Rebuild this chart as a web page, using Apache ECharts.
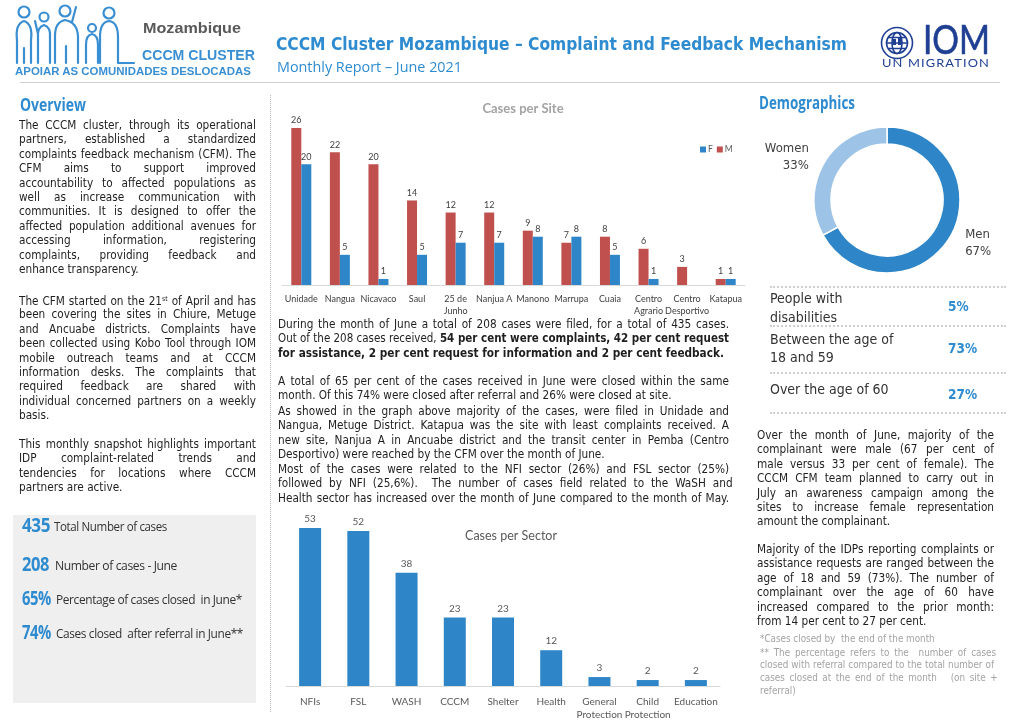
<!DOCTYPE html>
<html><head><meta charset="utf-8">
<script src="https://cdn.jsdelivr.net/npm/echarts@6/dist/echarts.min.js"></script>
<style>
html,body{margin:0;padding:0;background:#fff;}
#page{position:relative;width:1020px;height:721px;overflow:hidden;background:#fff;}
#chart{position:absolute;left:0;top:0;width:1020px;height:721px;}
#ov{position:absolute;left:0;top:0;width:1020px;height:721px;pointer-events:none;}
.t{position:absolute;white-space:nowrap;display:inline-block;transform-origin:0 50%;}
.body{font-family:"DejaVu Sans Condensed","DejaVu Sans";font-stretch:condensed;color:#1e1e1e;}
</style></head>
<body>
<div id="page">
  <div id="chart"></div>
  <div id="ov"></div>
</div>
<script>
// ---------------- DATA ----------------
const siteCategories = ['Unidade','Nangua','Nicavaco','Saul','25 de\nJunho','Nanjua A','Manono','Marrupa','Cuaia','Centro\nAgrario','Centro\nDesportivo','Katapua'];
const siteM = [26,22,20,14,12,12,9,7,8,6,3,1];
const siteF = [20,5,1,5,7,7,8,8,5,1,null,1];
const sectorCategories = ['NFIs','FSL','WASH','CCCM','Shelter','Health','General\nProtection','Child\nProtection','Education'];
const sectorValues = [53,52,38,23,23,12,3,2,2];
const genderNames = ['Men','Women'];
const genderValues = [67,33];
const demoLabels = [['People with','disabilities'],['Between the age of','18 and 59'],['Over the age of 60']];
const demoValues = ['5%','73%','27%'];
const statValues = ['435','208','65%','74%'];
const statLabels = ['Total Number of cases','Number of cases - June','Percentage of cases closed\u00a0 in June*','Cases closed\u00a0 after referral in June**'];

const overviewParas = [
 ['The CCCM cluster, through its operational','partners, established a standardized','complaints feedback mechanism (CFM). The','CFM aims to support improved','accountability to affected populations as','well as increase communication with','communities. It is designed to offer the','affected population additional avenues for','accessing information, registering','complaints, providing feedback and','enhance transparency.'],
 ['The CFM started on the 21<sup style="font-size:7px;vertical-align:4px">st</sup> of April and has','been covering the sites in Chiure, Metuge','and Ancuabe districts. Complaints have','been collected using Kobo Tool through IOM','mobile outreach teams and at CCCM','information desks. The complaints that','required feedback are shared with','individual concerned partners on a weekly','basis.'],
 ['This monthly snapshot highlights important','IDP complaint-related trends and','tendencies for locations where CCCM','partners are active.']
];
const middleParas = [
 ['During the month of June a total of 208 cases were filed, for a total of 435 cases.','Out of the 208 cases received, <b>54 per cent were complaints, 42 per cent request</b>','<b>for assistance, 2 per cent request for information and 2 per cent feedback.</b>'],
 ['A total of 65 per cent of the cases received in June were closed within the same','month. Of this 74% were closed after referral and 26% were closed at site.'],
 ['As showed in the graph above majority of the cases, were filed in Unidade and','Nangua, Metuge District. Katapua was the site with least complaints received. A','new site, Nanjua A in Ancuabe district and the transit center in Pemba (Centro','Desportivo) were reached by the CFM over the month of June.'],
 ['Most of the cases were related to the NFI sector (26%) and FSL sector (25%)','followed by NFI (25,6%).&nbsp; The number of cases field related to the WaSH and','Health sector has increased over the month of June compared to the month of May.']
];
const rightParas = [
 ['Over the month of June, majority of the','complainant were male (67 per cent of','male versus 33 per cent of female). The','CCCM CFM team planned to carry out in','July an awareness campaign among the','sites to increase female representation','amount the complainant.'],
 ['Majority of the IDPs reporting complaints or','assistance requests are ranged between the','age of 18 and 59 (73%). The number of','complainant over the age of 60 have','increased compared to the prior month:','from 14 per cent to 27 per cent.']
];
const footnotes = [
 ['*Cases closed by&nbsp; the end of the month'],
 ['** The percentage refers to the&nbsp; number of cases','closed with referral compared to the total number of','cases closed at the end of the month &nbsp; (on site +','referral)']
];

// ---------------- CHART ----------------
const BLUE = '#2e86c8', RED = '#c0504d';
const chart = echarts.init(document.getElementById('chart'), null, {renderer:'canvas'});
chart.setOption({
  animation:false,
  textStyle:{fontFamily:'Lato'},
  title:[
    {text:'Cases per Site', left:523, top:102, padding:0, textAlign:'center',
     textStyle:{fontSize:13, fontWeight:'bold', color:'#a3a3a3', fontFamily:'Lato'}},
    {text:'Cases per Sector', left:511, top:529, padding:0, textAlign:'center',
     textStyle:{fontSize:12.5, fontWeight:'normal', color:'#595959', fontFamily:'Lato'}}
  ],
  legend:{data:['F','M'], left:700, top:145, padding:0, icon:'rect', itemWidth:6, itemHeight:6, itemGap:4,
    textStyle:{fontSize:8.5, color:'#595959', padding:[0,0,0,-3]}},
  grid:[
    {left:282, width:463, top:128, height:157},
    {left:286, width:434, top:528, height:162}
  ],
  xAxis:[
    {gridIndex:0, type:'category', data:siteCategories,
     axisLine:{lineStyle:{color:'#d9d9d9'}}, axisTick:{show:false},
     axisLabel:{interval:0, fontSize:9, color:'#404040', margin:8, lineHeight:12}},
    {gridIndex:1, type:'category', data:sectorCategories,
     axisLine:{lineStyle:{color:'#d9d9d9'}}, axisTick:{show:false},
     axisLabel:{interval:0, fontSize:10, color:'#595959', margin:9, lineHeight:13}}
  ],
  yAxis:[
    {gridIndex:0, type:'value', min:0, max:26, show:false},
    {gridIndex:1, type:'value', min:0, max:53, show:false}
  ],
  series:[
    {name:'M', type:'bar', xAxisIndex:0, yAxisIndex:0, data:siteM, barWidth:10, barGap:'0%',
     itemStyle:{color:RED}, label:{show:true, position:'top', distance:3, fontSize:9, color:'#404040'}},
    {name:'F', type:'bar', xAxisIndex:0, yAxisIndex:0, data:siteF, barWidth:10, barGap:'0%',
     itemStyle:{color:BLUE}, label:{show:true, position:'top', distance:3, fontSize:9, color:'#404040'}},
    {name:'Sectors', type:'bar', xAxisIndex:1, yAxisIndex:1, data:sectorValues, barWidth:22,
     itemStyle:{color:BLUE}, label:{show:true, position:'top', distance:4, fontSize:10, color:'#595959'}},
    {name:'Gender', type:'pie', center:[887,200], radius:[56,73], startAngle:90, clockwise:true, silent:true,
     itemStyle:{borderColor:'#fff', borderWidth:1.5},
     label:{show:true, position:'outside', fontSize:13, lineHeight:17, color:'#404040',
            fontFamily:'DejaVu Sans Condensed', align:'center',
            formatter:p=>p.name+'\n'+p.value+'%'},
     labelLine:{show:false, length:12, length2:0},
     data:genderNames.map((n,i)=>({name:n, value:genderValues[i], itemStyle:{color:i===0?BLUE:'#9dc3e6'}}))}
  ]
});

// ---------------- TEXT LAYOUT ----------------
const ov = document.getElementById('ov');
function put(x, yc, html, css, opt){
  opt = opt || {};
  const d = document.createElement('div');
  d.className = 't ' + (opt.cls||'');
  d.style.cssText += css;
  d.innerHTML = html;
  ov.appendChild(d);
  const r = d.getBoundingClientRect();
  d.style.left = x + 'px';
  d.style.top = (yc - r.height/2) + 'px';
  if (opt.w){
    const nat = r.width;
    if (opt.fit || nat > opt.w){
      d.style.transform = 'scaleX(' + (opt.w/nat) + ')';
    } else if (opt.justify){
      const n = (d.textContent.replace(/\s+/g,' ').trim().match(/ /g)||[]).length;
      if (n) d.style.wordSpacing = ((opt.w - nat)/n) + 'px';
    }
  }
  return d;
}
function block(x, w, paras, starts, lh, css, justifyLast){
  paras.forEach((lines, pi)=>{
    lines.forEach((ln, li)=>{
      const last = li === lines.length-1;
      put(x, starts[pi] + li*lh, ln, css, {cls:'body', w:w, justify: !last || (justifyLast && justifyLast[pi])});
    });
  });
}
function line(x1,y1,x2,y2,css){
  const d = document.createElement('div');
  d.style.cssText = 'position:absolute;left:'+x1+'px;top:'+y1+'px;width:'+(x2-x1)+'px;height:'+(y2-y1)+'px;'+css;
  ov.appendChild(d);
}

// header rule & separators
line(20,82,1000,83,'background:#d0d0d0;');
line(270,95,271,712,'border-left:1px dotted #b8b8b8;');
[286,325,372,412].forEach(y=>line(770,y,1006,y+2,'border-top:2px dotted #cfcfcf;'));

// stats box
line(13,515,256,703,'background:#efefef;');

// logo (people outlines)
ov.insertAdjacentHTML('beforeend',
 '<svg style="position:absolute;left:0;top:0" width="140" height="70"><g fill="none" stroke="#3a8fd3" stroke-width="2.2" stroke-linejoin="round" stroke-linecap="round">'+
 '<circle cx="24" cy="12" r="5.5"/><path d="M17,63 L17,40 Q15,24 24,21 Q33,24 31,40 L31,63 M24,63 L24,48"/>'+
 '<circle cx="44" cy="17" r="4.5"/><path d="M38,63 L38,38 Q37,27 44,25 Q51,27 50,38 L50,63 M38,34 L35,21"/>'+
 '<circle cx="65" cy="11" r="5.5"/><path d="M55,63 L55,36 Q55,22 65,20 Q77,22 78,36 L78,63 M66,63 L66,46 M72,22 L76,7"/>'+
 '<circle cx="92" cy="28" r="4"/><path d="M86,63 L86,45 Q86,35 92,34 Q98,35 98,45 L98,63"/>'+
 '<circle cx="109" cy="13" r="5.5"/><path d="M100,63 L100,37 Q100,22 109,21 Q118,22 118,37 L118,63 L134,63"/>'+
 '</g></svg>');
// IOM emblem
ov.insertAdjacentHTML('beforeend',
 '<svg style="position:absolute;top:24px;left:878px" width="38" height="38"><g fill="none" stroke="#1f3f93" stroke-width="1.6">'+
 '<circle cx="19" cy="19" r="15.5"/><circle cx="19" cy="19" r="10.5"/><ellipse cx="19" cy="19" rx="5" ry="10.5"/>'+
 '<path d="M8.5,19 L29.5,19 M10,13.5 L28,13.5 M10,24.5 L28,24.5"/></g>'+
 '<g fill="#1f3f93"><rect x="15" y="15" width="3" height="6"/><rect x="20" y="14" width="3" height="7"/></g></svg>');

// header texts
put(143,27,'Mozambique','font-family:"Liberation Sans";font-weight:bold;font-size:15px;color:#595959;',{w:98,fit:true});
put(142,55,'CCCM CLUSTER','font-family:"Liberation Sans";font-weight:bold;font-size:14px;color:#3a8fd3;',{w:113,fit:true});
put(15,71,'APOIAR AS COMUNIDADES DESLOCADAS','font-family:"Liberation Sans";font-weight:bold;font-size:10.5px;color:#3a8fd3;',{w:236,fit:true});
put(276,43,'CCCM Cluster Mozambique \u2013 Complaint and Feedback Mechanism','font-family:"DejaVu Sans Condensed","DejaVu Sans";font-stretch:condensed;font-weight:bold;font-size:18px;color:#2e8bd0;',{w:571,fit:true});
put(277,66,'Monthly Report \u2013 June 2021','font-family:"Open Sans";font-size:15px;color:#2e8bd0;',{w:185,fit:true});
put(923,39,'IOM','font-family:"Lato";font-size:40px;color:#1f3f93;line-height:40px;-webkit-text-stroke:0.6px #1f3f93;',{w:67,fit:true});
put(882,63,'UN MIGRATION','font-family:"Lato";font-size:11.5px;color:#1f3f93;letter-spacing:1px;line-height:12px;',{w:108,fit:true});

// section headings
put(20,104,'Overview','font-family:"Open Sans";font-weight:bold;font-size:17px;color:#2e8bd0;',{w:66,fit:true});
put(759,102,'Demographics','font-family:"Open Sans";font-weight:bold;font-size:17px;color:#2e8bd0;',{w:96,fit:true});

// paragraphs
const bodyCss = 'font-size:11.7px;line-height:14px;';
block(19,237,overviewParas,[125,300,444],14.4,bodyCss);
block(278,451,middleParas,[324,381,411,469],14.4,bodyCss,[false,false,false,true]);
block(757,237,rightParas,[435,549],14.4,bodyCss);
block(760,234,footnotes,[639,652.7],12.6,'font-size:9.8px;line-height:12px;color:#a3a3a3;');

// stats
const statY = [525,564,598,632];
const statNumW = [28,27,29,29];
const statLblW = [113,122,186,187];
statValues.forEach((v,i)=>{
  put(22,statY[i],v,'font-family:"Open Sans";font-weight:bold;font-size:19px;color:#2e8bd0;letter-spacing:-0.5px;',{w:statNumW[i],fit:true});
  put(i<1?54:(i<2?55:56),statY[i]+1,statLabels[i],'font-family:"Open Sans";font-size:12.5px;color:#333;letter-spacing:-0.4px;',{w:statLblW[i],fit:true});
});

// demographic rows
const demoY = [[298,317],[339,357],[389]];
const demoValY = [306,348,394];
demoLabels.forEach((ls,i)=>{
  ls.forEach((t,j)=>put(770,demoY[i][j],t,'font-family:"DejaVu Sans Condensed","DejaVu Sans";font-stretch:condensed;font-size:14px;color:#333;'));
  put(948,demoValY[i],demoValues[i],'font-family:"DejaVu Sans Condensed","DejaVu Sans";font-stretch:condensed;font-weight:bold;font-size:13.5px;color:#2e8bd0;');
});
</script>
</body></html>
